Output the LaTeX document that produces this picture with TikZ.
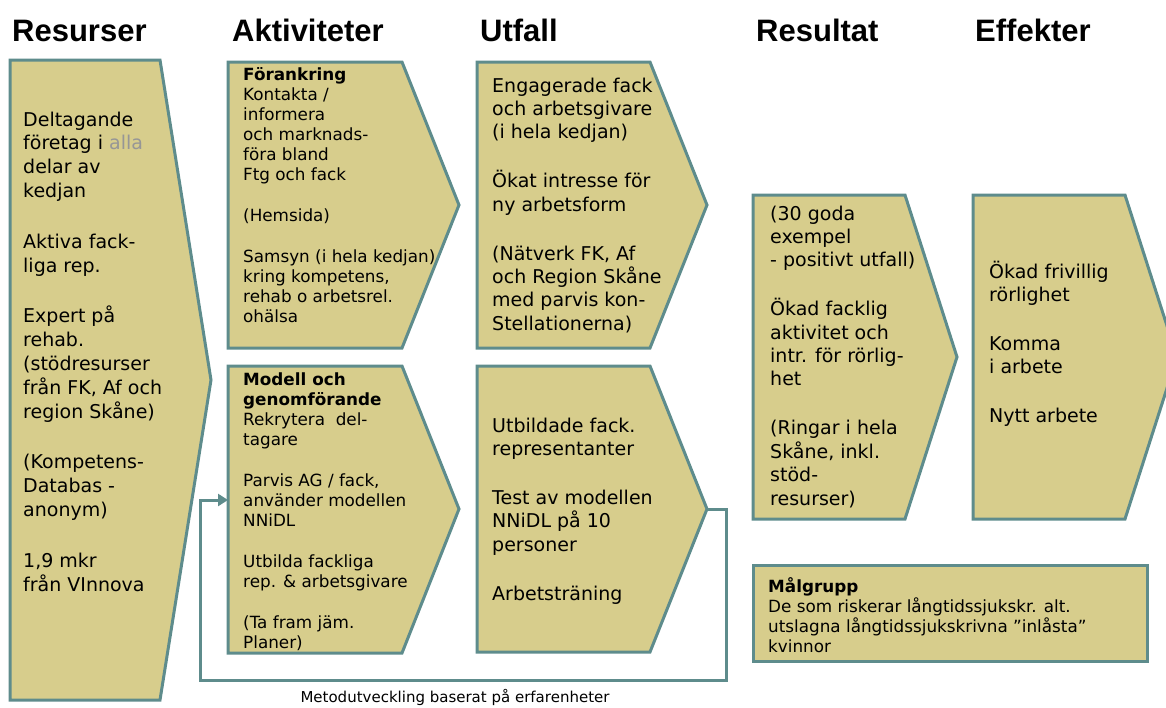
\documentclass[tikz,border=0pt]{standalone}
\usepackage{fontspec}
\setmainfont{DejaVu Sans}
\newfontfamily\headfont{Liberation Sans}
\usetikzlibrary{arrows.meta}

\definecolor{boxfill}{RGB}{215,205,140}
\definecolor{boxline}{RGB}{94,140,140}
\definecolor{softgray}{RGB}{150,150,150}

\newcommand\bigtxt{\fontsize{19}{23.4}\selectfont}
\newcommand\widetxt{\fontsize{19}{23.8}\selectfont}
\newcommand\smalltxt{\fontsize{16.8}{20}\selectfont}

\tikzset{
  chevron/.style={draw=boxline, fill=boxfill, line width=3pt, line join=miter},
  head/.style={anchor=base west, inner sep=0pt, font=\headfont\bfseries\fontsize{31}{36}\selectfont},
  txt/.style={anchor=base west, inner sep=0pt},
  feedback/.style={draw=boxline, line width=3pt, -{Triangle[length=10pt,width=12pt]}},
  note/.style={anchor=base, inner sep=0pt, font=\fontsize{15}{18}\selectfont}
}

\begin{document}
\begin{tikzpicture}[x=1pt,y=-1pt]
\useasboundingbox (0,0) rectangle (1166,707);
\clip (0,0) rectangle (1166,707);

% column headings
\node[head] (h-res) at (12,41) {Resurser};
\node[head] (h-akt) at (232,41) {Aktiviteter};
\node[head] (h-utf) at (480,41) {Utfall};
\node[head] (h-rst) at (756,41) {Resultat};
\node[head] (h-eff) at (975,41) {Effekter};

% chevron boxes
\draw[chevron] (10,60) -- (160,60) -- (211,380) -- (160,700) -- (10,700) -- cycle;
\draw[chevron] (228,62) -- (402,62) -- (459,205) -- (402,348) -- (228,348) -- cycle;
\draw[chevron] (228,366) -- (402,366) -- (459,509) -- (402,653) -- (228,653) -- cycle;
\draw[chevron] (477,62) -- (650,62) -- (707,205) -- (650,348) -- (477,348) -- cycle;
\draw[chevron] (477,366) -- (650,366) -- (707,509) -- (650,652) -- (477,652) -- cycle;
\draw[chevron] (753,195) -- (905,195) -- (957,357) -- (905,519) -- (753,519) -- cycle;
\draw[chevron] (973,195) -- (1125,195) -- (1177,357) -- (1125,519) -- (973,519) -- cycle;
\draw[chevron] (753,565) rectangle (1147,661);

% anchor points of the feedback loop
\coordinate (utb-tip) at (707,509);
\coordinate (fb-r) at (726,680);
\coordinate (fb-l) at (200,680);
\coordinate (mod-in) at (228,500);

\draw[feedback] (utb-tip) -| (fb-r) -- (fb-l) |- (mod-in);
\node[note] (fb-label) at (455,702) {Metodutveckling baserat på erfarenheter};

% box texts
\node[txt] (t-res) at (23,126) {\parbox[t]{200pt}{\widetxt\raggedright
Deltagande\\
företag i {\color{softgray}alla}\\
delar av\\
kedjan\\[27pt]
Aktiva fack-\\
liga rep.\\[27pt]
Expert på\\
rehab.\\
(stödresurser\\
från FK, Af och\\
region Skåne)\\[27pt]
(Kompetens-\\
Databas -\\
anonym)\\[27pt]
1,9 mkr\\
från VInnova}};

\node[txt] (t-fora) at (243,80) {\parbox[t]{220pt}{\smalltxt\raggedright
\textbf{Förankring}\\
Kontakta /\\
informera\\
och marknads-\\
föra bland\\
Ftg och fack\\[21pt]
(Hemsida)\\[21pt]
Samsyn (i hela kedjan)\\
kring kompetens,\\
rehab o arbetsrel.\\
ohälsa}};

\node[txt] (t-mod) at (243,385) {\parbox[t]{220pt}{\smalltxt\raggedright
\textbf{Modell och}\\
\textbf{genomförande}\\
Rekrytera\ \ del-\\
tagare\\[21pt]
Parvis AG / fack,\\
använder modellen\\
NNiDL\\[21pt]
Utbilda fackliga\\
rep. \& arbetsgivare\\[21pt]
(Ta fram jäm.\\
Planer)}};

\node[txt] (t-utf1) at (492,92) {\parbox[t]{220pt}{\bigtxt\raggedright
Engagerade fack\\
och arbetsgivare\\
(i hela kedjan)\\[25.5pt]
Ökat intresse för\\
ny arbetsform\\[25.5pt]
(Nätverk FK, Af\\
och Region Skåne\\
med parvis kon-\\
Stellationerna)}};

\node[txt] (t-utf2) at (492,432) {\parbox[t]{220pt}{\bigtxt\raggedright
Utbildade fack.\\
representanter\\[25.5pt]
Test av modellen\\
NNiDL på 10\\
personer\\[25.5pt]
Arbetsträning}};

\node[txt] (t-rst) at (770,220) {\parbox[t]{200pt}{\bigtxt\raggedright
(30 goda\\
exempel\\
- positivt utfall)\\[25.5pt]
Ökad facklig\\
aktivitet och\\
intr. för rörlig-\\
het\\[25.5pt]
(Ringar i hela\\
Skåne, inkl.\\
stöd-\\
resurser)}};

\node[txt] (t-eff) at (989,278) {\parbox[t]{200pt}{\bigtxt\raggedright
Ökad frivillig\\
rörlighet\\[25.5pt]
Komma\\
i arbete\\[25.5pt]
Nytt arbete}};

\node[txt] (t-mal) at (768,592) {\parbox[t]{370pt}{\smalltxt\raggedright
\textbf{Målgrupp}\\
De som riskerar långtidssjukskr. alt.\\
utslagna långtidssjukskrivna ”inlåsta”\\
kvinnor}};
\end{tikzpicture}
\end{document}
